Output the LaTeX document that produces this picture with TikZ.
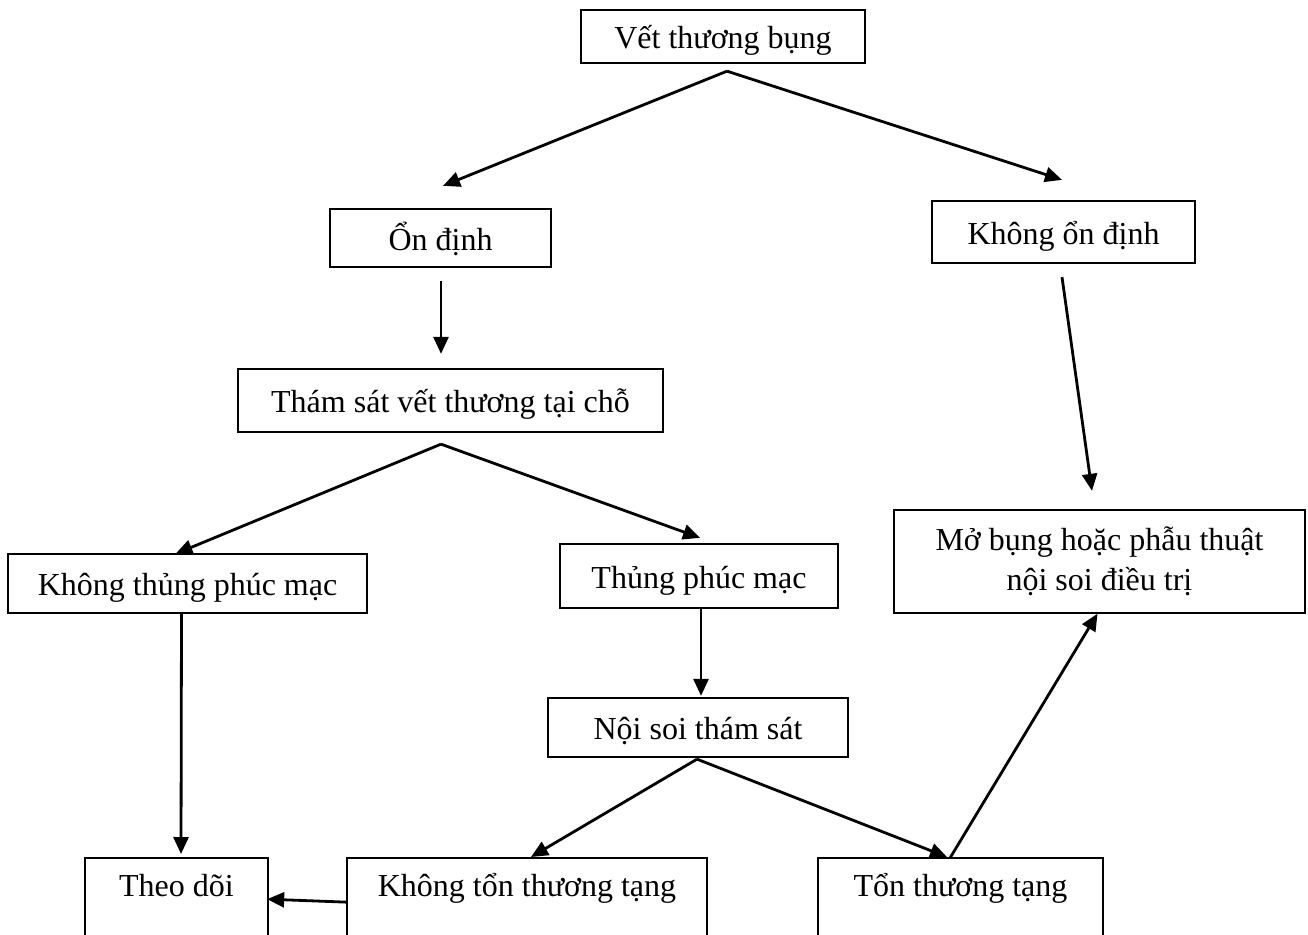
\documentclass[tikz,border=0pt]{standalone}
\usepackage{fontspec}
\setmainfont{Liberation Serif}
\usetikzlibrary{arrows.meta,calc}
\begin{document}
\begin{tikzpicture}[x=1pt,y=-1pt,
  box/.style={draw,line width=2.3pt,rectangle,inner sep=0pt,font=\fontsize{32}{40}\selectfont,align=center},
  sbox/.style={box,text height=29pt,text depth=5pt},
  bbox/.style={box,anchor=north,text height=38pt,text depth=65pt},
  arr/.style={line width=2.8pt,-{Triangle[length=17pt,width=15pt]}}]
\useasboundingbox (0,0) rectangle (1308,934);
\node[sbox,minimum width=284pt,minimum height=53pt] (A) at (723,36.5) {Vết thương bụng};
\node[sbox,minimum width=221pt,minimum height=58pt] (B) at (440.5,238) {Ổn định};
\node[sbox,minimum width=263pt,minimum height=62pt] (C) at (1063.5,232) {Không ổn định};
\node[sbox,minimum width=425pt,minimum height=63pt] (D) at (450.5,400.5) {Thám sát vết thương tại chỗ};
\node[sbox,minimum width=359pt,minimum height=59pt] (E) at (187.5,583.5) {Không thủng phúc mạc};
\node[sbox,minimum width=278pt,minimum height=64pt] (F) at (699,576) {Thủng phúc mạc};
\node[box,minimum width=411pt,minimum height=103pt] (G) at (1099.5,561.5) {Mở bụng hoặc phẫu thuật\\nội soi điều trị};
\node[sbox,minimum width=300pt,minimum height=59pt] (H) at (698,727.5) {Nội soi thám sát};
\node[bbox,minimum width=183pt] (I) at (176.5,857) {Theo dõi};
\node[bbox,minimum width=360pt] (J) at (527,857) {Không tổn thương tạng};
\node[bbox,minimum width=285pt] (K) at (960.5,857) {Tổn thương tạng};

\draw[arr] ($(A.south)+(4,7)$) -- ($(B.north)+(2.5,-22)$);
\draw[arr] ($(A.south)+(4,7)$) -- ($(C.north)+(-1.5,-20)$);
\draw[arr] ($(B.south)+(0.5,13)$) -- ($(D.north)+(-9.5,-14)$);
\draw[arr] ($(D.south)+(-9.5,11)$) -- ($(E.north)+(-12,1)$);
\draw[arr] ($(D.south)+(-9.5,11)$) -- ($(F.north)+(1,-5)$);
\draw[arr] ($(C.south)+(-1.5,13)$) -- ($(G.north)+(-7.5,-18)$);
\draw[arr] ($(E.south)+(-6,-2)$) -- ($(I.north)+(4.5,-3)$);
\draw[arr] ($(F.south)+(2,0)$) -- ($(H.north)+(3,-1)$);
\draw[arr] ($(H.south)+(-1,1)$) -- ($(J.north)+(4,0)$);
\draw[arr] ($(H.south)+(-1,1)$) -- ($(K.north)+(-13.5,0)$);
\draw[arr] ($(J.west)+(1,-7.5)$) -- ($(I.east)+(-2,-10.5)$);
\draw[arr] ($(K.north)+(-10.5,1)$) -- ($(G.south)+(-2,-0.5)$);
\end{tikzpicture}
\end{document}
